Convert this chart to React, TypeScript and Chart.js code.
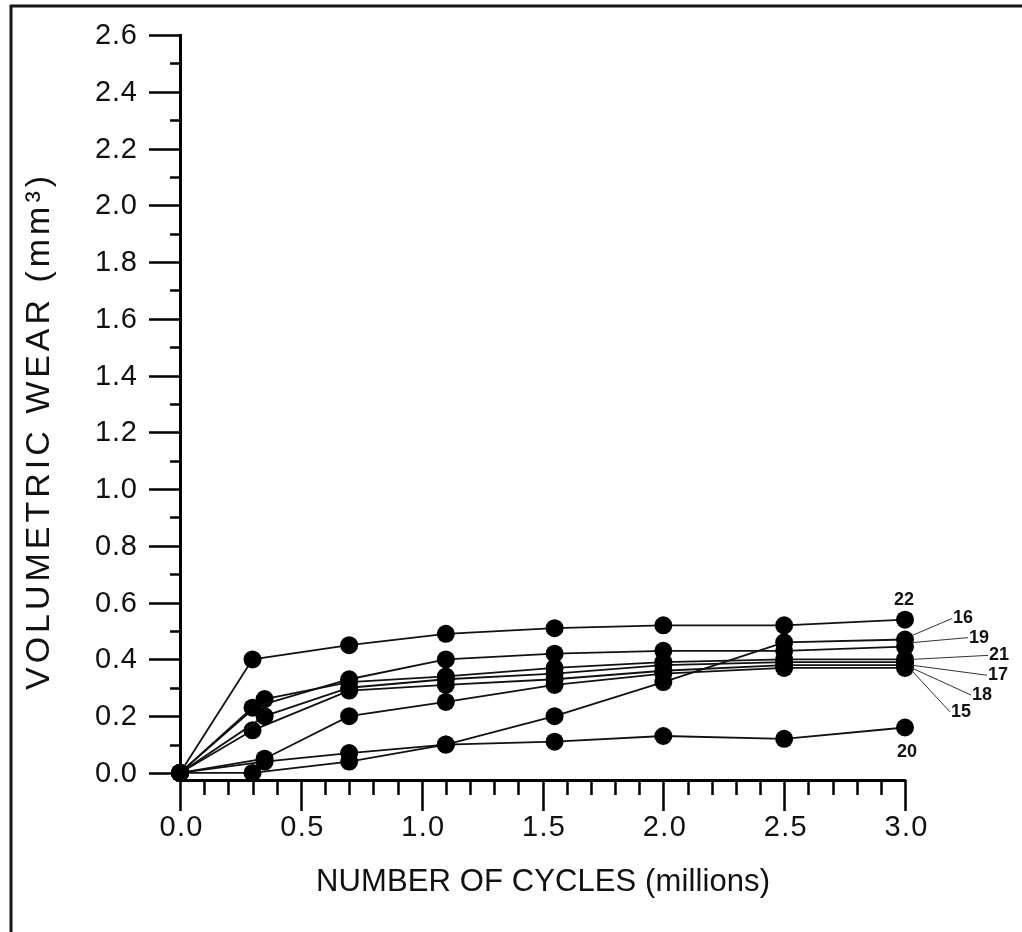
import React, { useEffect, useRef } from "react";
import { Chart, registerables } from "chart.js";

Chart.register(...registerables);

// Measurement cycles (millions). Two specimen groups were weighed at slightly different first intervals.
const cyclesGroupA = [0, 0.3, 0.7, 1.1, 1.55, 2.0, 2.5, 3.0];
const cyclesGroupB = [0, 0.35, 0.7, 1.1, 1.55, 2.0, 2.5, 3.0];

// Volumetric wear (mm³) per specimen
const wear22 = [0, 0.4, 0.45, 0.49, 0.51, 0.52, 0.52, 0.54];
const wear16 = [0, 0.04, 0.07, 0.1, 0.2, 0.32, 0.46, 0.47];
const wear19 = [0, 0.23, 0.33, 0.4, 0.42, 0.43, 0.43, 0.445];
const wear21 = [0, 0.26, 0.32, 0.34, 0.37, 0.39, 0.4, 0.4];
const wear17 = [0, 0.2, 0.3, 0.33, 0.35, 0.38, 0.39, 0.39];
const wear18 = [0, 0.15, 0.29, 0.31, 0.33, 0.36, 0.38, 0.38];
const wear15 = [0, 0.05, 0.2, 0.25, 0.31, 0.35, 0.37, 0.37];
const wear20 = [0, 0.0, 0.04, 0.1, 0.11, 0.13, 0.12, 0.16];

const specimens = [
  { name: "22", cycles: cyclesGroupA, wear: wear22 },
  { name: "16", cycles: cyclesGroupB, wear: wear16 },
  { name: "19", cycles: cyclesGroupA, wear: wear19 },
  { name: "21", cycles: cyclesGroupB, wear: wear21 },
  { name: "17", cycles: cyclesGroupB, wear: wear17 },
  { name: "18", cycles: cyclesGroupA, wear: wear18 },
  { name: "15", cycles: cyclesGroupB, wear: wear15 },
  { name: "20", cycles: cyclesGroupA, wear: wear20 },
];

const yTickValues = [0, 0.2, 0.4, 0.6, 0.8, 1.0, 1.2, 1.4, 1.6, 1.8, 2.0, 2.2, 2.4, 2.6];
const yTickLabels = ["0.0", "0.2", "0.4", "0.6", "0.8", "1.0", "1.2", "1.4", "1.6", "1.8", "2.0", "2.2", "2.4", "2.6"];
const xTickValues = [0, 0.5, 1.0, 1.5, 2.0, 2.5, 3.0];
const xTickLabels = ["0.0", "0.5", "1.0", "1.5", "2.0", "2.5", "3.0"];

const xTitle = "NUMBER OF CYCLES (millions)";
const yTitle = "VOLUMETRIC WEAR (mm³)";

// Where each specimen's name sits relative to its final point, and whether a leader line joins them
const calloutPlacement: Record<string, { dx: number; dy: number; leader: boolean }> = {
  "22": { dx: -1, dy: -20, leader: false },
  "16": { dx: 58, dy: -21, leader: true },
  "19": { dx: 74, dy: -9, leader: true },
  "21": { dx: 94, dy: -4, leader: true },
  "17": { dx: 93, dy: 13, leader: true },
  "18": { dx: 77, dy: 30, leader: true },
  "15": { dx: 56, dy: 44, leader: true },
  "20": { dx: 2, dy: 25, leader: false },
};

const FONT = '"Liberation Sans", Arial, Helvetica, sans-serif';

// Draws text spread (or squeezed) to a given overall width
function fitText(
  ctx: CanvasRenderingContext2D,
  text: string,
  x: number,
  y: number,
  width: number,
  align: "left" | "center" | "right"
) {
  const c = ctx as any;
  c.letterSpacing = "0px";
  const natural = ctx.measureText(text).width;
  const n = Array.from(text).length;
  const left = align === "center" ? x - width / 2 : align === "right" ? x - width : x;
  ctx.textAlign = "left";
  if (natural <= width) {
    const ls = n > 1 ? (width - natural) / (n - 1) : 0;
    c.letterSpacing = `${ls}px`;
    ctx.fillText(text, left, y);
    c.letterSpacing = "0px";
  } else {
    ctx.save();
    ctx.translate(left, y);
    ctx.scale(width / natural, 1);
    ctx.fillText(text, 0, 0);
    ctx.restore();
  }
}

const axisDecorations = {
  id: "axisDecorations",
  afterDraw(chart: any) {
    const ctx: CanvasRenderingContext2D = chart.ctx;
    const xs = chart.scales.x;
    const ys = chart.scales.y;
    const area = chart.chartArea;
    ctx.save();

    // page frame
    ctx.strokeStyle = "#161616";
    ctx.lineWidth = 3;
    ctx.beginPath();
    ctx.moveTo(10, 6);
    ctx.lineTo(1022, 6);
    ctx.moveTo(11, 5);
    ctx.lineTo(11, 932);
    ctx.stroke();

    // tick marks
    ctx.strokeStyle = "#000";
    ctx.lineWidth = 2.5;
    ctx.beginPath();
    for (let i = 0; i <= 26; i++) {
      const py = Math.round(ys.getPixelForValue(i / 10)) + 0.5;
      const len = i % 2 === 0 ? 31 : 10;
      ctx.moveTo(area.left, py);
      ctx.lineTo(area.left - len, py);
    }
    for (let i = 0; i <= 30; i++) {
      const px = Math.round(xs.getPixelForValue(i / 10)) + 0.5;
      const len = i % 5 === 0 ? 31 : 15;
      ctx.moveTo(px, area.bottom);
      ctx.lineTo(px, area.bottom + len);
    }
    ctx.stroke();

    // tick labels
    ctx.fillStyle = "#111";
    ctx.textBaseline = "middle";
    ctx.font = `29px ${FONT}`;
    yTickValues.forEach((v, i) => {
      fitText(ctx, yTickLabels[i], area.left - 43, ys.getPixelForValue(v) + 1, 42, "right");
    });
    xTickValues.forEach((v, i) => {
      fitText(ctx, xTickLabels[i], xs.getPixelForValue(v) + 1, area.bottom + 48, 43, "center");
    });

    // axis titles
    ctx.font = `31px ${FONT}`;
    fitText(ctx, xTitle, 543, 882, 454, "center");
    ctx.save();
    ctx.translate(40, 433);
    ctx.rotate(-Math.PI / 2);
    ctx.font = `34px ${FONT}`;
    fitText(ctx, yTitle, 0, 0, 514, "center");
    ctx.restore();

    // specimen callouts
    chart.data.datasets.forEach((ds: any, di: number) => {
      const meta = chart.getDatasetMeta(di);
      const last = meta.data[meta.data.length - 1];
      const place = calloutPlacement[ds.label];
      if (!last || !place) return;
      const lx = last.x + place.dx;
      const ly = last.y + place.dy;
      if (place.leader) {
        ctx.strokeStyle = "#333";
        ctx.lineWidth = 1;
        ctx.beginPath();
        ctx.moveTo(last.x + 7, last.y + (place.dy > 0 ? 3 : place.dy < -5 ? -4 : 0));
        ctx.lineTo(lx - 11, ly);
        ctx.stroke();
      }
      ctx.fillStyle = "#111";
      ctx.font = `bold 18px ${FONT}`;
      ctx.textAlign = "center";
      ctx.textBaseline = "middle";
      ctx.fillText(ds.label, lx, ly);
    });

    ctx.restore();
  },
};

export default function App() {
  const canvasRef = useRef<HTMLCanvasElement>(null);

  useEffect(() => {
    document.body.style.margin = "0";
    const canvas = canvasRef.current;
    if (!canvas) return;

    const chart = new Chart(canvas, {
      type: "line",
      data: {
        datasets: specimens.map((s) => ({
          label: s.name,
          data: s.cycles.map((c, i) => ({ x: c, y: s.wear[i] })),
          borderColor: "#111",
          borderWidth: 1.8,
          backgroundColor: "#000",
          pointBackgroundColor: "#000",
          pointBorderColor: "#000",
          pointBorderWidth: 0,
          pointRadius: 9,
          tension: 0,
          fill: false,
          clip: false as any,
        })),
      },
      options: {
        animation: false,
        responsive: false,
        devicePixelRatio: 1,
        events: [],
        layout: { padding: { top: 35, right: 117, left: 0, bottom: 0 } },
        plugins: {
          legend: { display: false },
          tooltip: { enabled: false },
        },
        scales: {
          x: {
            type: "linear",
            min: 0,
            max: 3,
            grid: { display: false },
            border: { display: true, color: "#000", width: 3 },
            ticks: { display: false },
            afterFit: (scale: any) => {
              scale.height = 152;
            },
          },
          y: {
            type: "linear",
            min: -0.025,
            max: 2.6,
            grid: { display: false },
            border: { display: true, color: "#000", width: 3 },
            ticks: { display: false },
            afterFit: (scale: any) => {
              scale.width = 180;
            },
          },
        },
      },
      plugins: [axisDecorations],
    });

    return () => chart.destroy();
  }, []);

  return (
    <div style={{ width: 1022, height: 932, overflow: "hidden", background: "#fff" }}>
      <canvas ref={canvasRef} width={1022} height={932} style={{ display: "block" }} />
    </div>
  );
}
